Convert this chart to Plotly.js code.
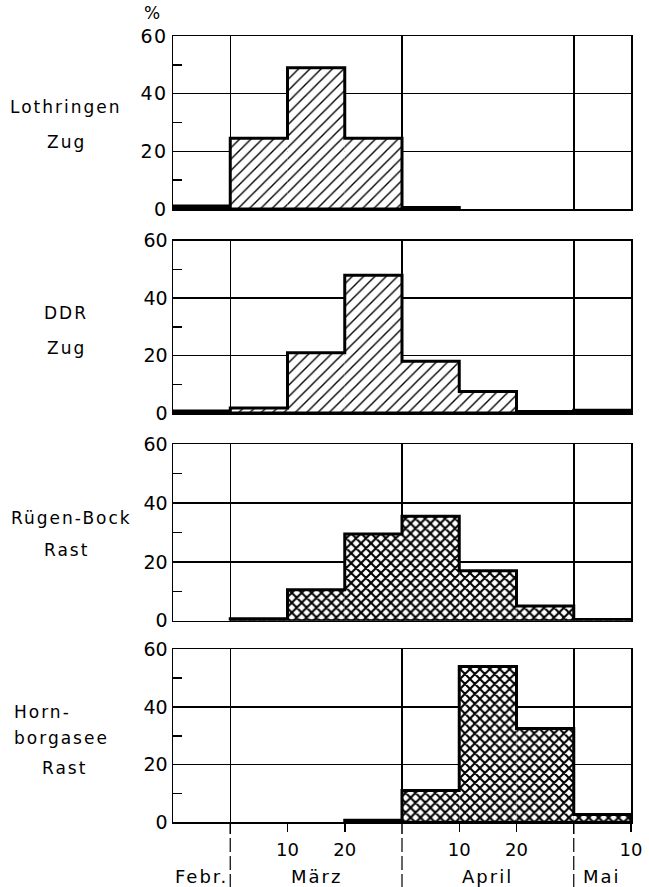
<!DOCTYPE html>
<html>
<head>
<meta charset="utf-8">
<script src="https://cdn.plot.ly/plotly-3.0.1.min.js"></script>
<style>
  html, body { margin: 0; padding: 0; background: #fff; }
  #chart { width: 649px; height: 887px; }
  .annotation-text { letter-spacing: 2px; }
  .ytick text, .xtick text { letter-spacing: 1.5px; }
</style>
</head>
<body>
<div id="chart"></div>
<script>
// ---- data (percent of observations per 10-day period) ----
const periods = ['Febr. 21–28', 'März 1–10', 'März 11–20', 'März 21–31',
                 'April 1–10', 'April 11–20', 'April 21–30', 'Mai 1–10'];
const lothringenZug = [1, 24.5, 49, 24.5, 0.5, null, null, null];
const ddrZug        = [0.7, 1.7, 21, 48, 18, 7.5, 0.5, 1];
const ruegenRast    = [null, 0.7, 10.5, 29.5, 35.5, 17, 5, 0.4];
const hornRast      = [null, null, null, 0.7, 11, 54, 32.5, 2.7];

const panelLabels = [
  ['Lothringen', 'Zug'],
  ['DDR', 'Zug'],
  ['Rügen-Bock', 'Rast'],
  ['Horn-', 'borgasee', 'Rast']
];
const yTicks = [0, 20, 40, 60];
const yMinor = [10, 30, 50];
const monthStarts = [1, 4, 7];             // bin index where März, April, Mai start
const xTickVals = [2, 3, 5, 6, 8];
const xTickText = ['10', '20', '10', '20', '10'];
const monthNames = ['Febr.', 'März', 'April', 'Mai'];
const monthCenters = [0.5, 2.5, 5.5, 7.5];

// ---- layout geometry (pixels) ----
const W = 649, H = 887, L = 173, R = 18;
const panelPx = [[36, 209], [240.7, 413], [444.3, 620.7], [649.3, 822.3]];
const labelPx = [
  [[66, 107], [66, 142]],
  [[66, 313], [66, 348]],
  [[71, 518], [66, 550]],
  [[42, 712], [61, 738], [64, 768]]
];
const FONT = 'DejaVu Sans, sans-serif';
const fy = py => 1 - py / H;
const fx = px => (px - L) / (W - L - R);

const series = [lothringenZug, ddrZug, ruegenRast, hornRast];
const patterns = [
  {shape: '/', size: 8, solidity: 0.17},
  {shape: '/', size: 8, solidity: 0.17},
  {shape: 'x', size: 7, solidity: 0.5},
  {shape: 'x', size: 7, solidity: 0.5}
];

function outline(vals) {
  const xs = [], ys = [];
  let i = 0;
  while (i < vals.length) {
    if (vals[i] == null) { i++; continue; }
    const s = i;
    xs.push(s); ys.push(0);
    while (i < vals.length && vals[i] != null) {
      xs.push(i); ys.push(vals[i]);
      xs.push(i + 1); ys.push(vals[i]);
      i++;
    }
    xs.push(i); ys.push(0);
    xs.push(s); ys.push(0);
    xs.push(null); ys.push(null);
  }
  return {xs, ys};
}

const traces = [];
const layout = {
  width: W, height: H,
  margin: {l: L, r: R, t: 0, b: 0},
  paper_bgcolor: '#fff', plot_bgcolor: '#fff',
  showlegend: false,
  font: {family: FONT, size: 17, color: '#000'},
  annotations: [], shapes: []
};

series.forEach((vals, k) => {
  const n = k + 1;
  const xa = n === 1 ? 'x' : 'x' + n;
  const ya = n === 1 ? 'y' : 'y' + n;
  const centers = vals.map((v, i) => i + 0.5);
  traces.push({
    type: 'bar', x: centers, y: vals, width: 1,
    xaxis: xa, yaxis: ya, hoverinfo: 'skip',
    marker: {color: '#fff', line: {width: 0},
      pattern: Object.assign({fgcolor: '#000', bgcolor: '#fff', fillmode: 'replace'}, patterns[k])}
  });
  const o = outline(vals);
  traces.push({
    type: 'scatter', mode: 'lines', x: o.xs, y: o.ys,
    xaxis: xa, yaxis: ya, hoverinfo: 'skip', connectgaps: false,
    line: {color: '#000', width: 3, shape: 'linear'}
  });

  const dom = [fy(panelPx[k][1]), fy(panelPx[k][0])];
  const isBottom = k === 3;
  layout[n === 1 ? 'xaxis' : 'xaxis' + n] = {
    anchor: ya, domain: [0, 1], range: [0, 8], fixedrange: true,
    showline: true, mirror: true, linecolor: '#000', linewidth: 1.5,
    zeroline: false, showgrid: false,
    tickmode: 'array',
    tickvals: isBottom ? xTickVals : [],
    ticktext: isBottom ? xTickText : [],
    ticks: isBottom ? 'outside' : '', ticklen: 8, tickwidth: 1.5, tickcolor: '#000',
    tickfont: {family: FONT, size: 18, color: '#000'},
    ticklabelstandoff: 3,
    showticklabels: isBottom,
    minor: {tickmode: 'array', tickvals: monthStarts, showgrid: true,
            gridcolor: '#000', gridwidth: 1.5, ticks: ''}
  };
  layout[n === 1 ? 'yaxis' : 'yaxis' + n] = {
    anchor: xa, domain: dom, range: [0, 60], fixedrange: true,
    showline: true, mirror: true, linecolor: '#000', linewidth: 1.5,
    zeroline: false,
    tickmode: 'array', tickvals: yTicks, ticktext: yTicks.map(String),
    ticks: '', showgrid: true, gridcolor: '#000', gridwidth: 1.5,
    tickfont: {family: FONT, size: 19, color: '#000'},
    minor: {tickmode: 'array', tickvals: yMinor, ticks: 'inside', ticklen: 9,
            tickwidth: 1.5, tickcolor: '#000', showgrid: false}
  };

  panelLabels[k].forEach((txt, j) => {
    const p = labelPx[k][j];
    layout.annotations.push({
      xref: 'paper', yref: 'paper', x: fx(p[0]), y: fy(p[1]),
      xanchor: 'center', yanchor: 'middle', showarrow: false,
      text: txt, font: {family: FONT, size: 17, color: '#000'}
    });
  });
});

// percent sign
layout.annotations.push({
  xref: 'paper', yref: 'paper', x: fx(153), y: fy(13),
  xanchor: 'center', yanchor: 'middle', showarrow: false,
  text: '%', font: {family: FONT, size: 17, color: '#000'}
});

// month names under the bottom axis
monthNames.forEach((m, i) => {
  layout.annotations.push({
    xref: 'x4', yref: 'paper', x: monthCenters[i], y: fy(876),
    xanchor: 'center', yanchor: 'middle', showarrow: false,
    text: m, font: {family: FONT, size: 18, color: '#000'}
  });
});

// month boundary separators below the bottom axis
monthStarts.forEach(v => {
  layout.shapes.push({
    type: 'line', xref: 'x4', yref: 'paper', x0: v, x1: v,
    y0: fy(panelPx[3][1]), y1: fy(834),
    line: {color: '#000', width: 1.5}
  });
  layout.shapes.push({
    type: 'line', xref: 'x4', yref: 'paper', x0: v, x1: v,
    y0: fy(838), y1: 0,
    line: {color: '#000', width: 1.2, dash: '14px,4px'}
  });
});

Plotly.newPlot('chart', traces, layout, {staticPlot: true, displayModeBar: false});
</script>
</body>
</html>
